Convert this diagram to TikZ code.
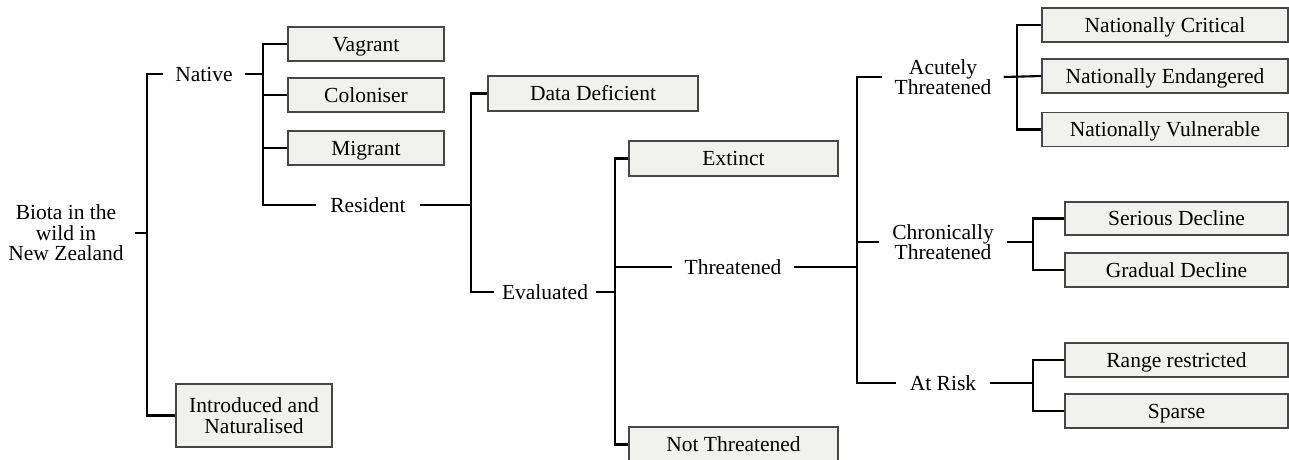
\documentclass[tikz,border=0pt]{standalone}
\usepackage{fontspec}
\setmainfont{Liberation Serif}
\begin{document}
\begin{tikzpicture}[x=1pt,y=-1pt,
  every node/.style={font=\fontsize{21.5pt}{20.5pt}\selectfont, text=black},
  box/.style={draw={rgb,255:red,70;green,70;blue,70}, line width=1.1pt, fill={rgb,255:red,241;green,241;blue,237}, inner sep=0pt, text height=14pt, text depth=0pt},
  lbl/.style={inner xsep=12pt, inner ysep=0pt, align=center},
  one/.style={text height=14pt, text depth=0pt},
  conn/.style={line width=2.1pt, black, line join=miter}]
\useasboundingbox (0,0) rectangle (1289,459);
% bus coordinates
\coordinate (b1) at (147,0);
\coordinate (b2) at (263,0);
\coordinate (b3) at (471,0);
\coordinate (b4) at (615,0);
\coordinate (b5) at (857,0);
\coordinate (b6) at (1017,0);
\coordinate (b7) at (1033,0);
% labels
\node[lbl, inner xsep=11pt] (root) at (66,233) {Biota in the\\wild in\\New Zealand};
\node[lbl, one] (native) at (204,74) {Native};
\node[lbl, one, inner xsep=14pt] (res) at (368,205) {Resident};
\node[lbl, one, inner xsep=8pt] (eval) at (545,292) {Evaluated};
\node[lbl, one] (thr) at (733,267) {Threatened};
\node[lbl] (acu) at (943,77) {Acutely\\Threatened};
\node[lbl, inner xsep=13pt] (chr) at (943,242) {Chronically\\Threatened};
\node[lbl, one, inner xsep=14pt] (risk) at (943,383) {At Risk};
% boxes
\node[box, minimum width=156pt, minimum height=34pt] (vag) at (366,44) {Vagrant};
\node[box, minimum width=156pt, minimum height=34pt] (col) at (366,95) {Coloniser};
\node[box, minimum width=156pt, minimum height=34pt] (mig) at (366,148) {Migrant};
\node[box, text height=, text depth=, align=center, minimum width=156pt, minimum height=63pt] (intro) at (254,415.5) {Introduced and\\Naturalised};
\node[box, minimum width=210pt, minimum height=35pt] (dd) at (593,93.5) {Data Deficient};
\node[box, minimum width=209pt, minimum height=35pt] (ext) at (733.5,158.5) {Extinct};
\node[box, minimum width=209pt, minimum height=35pt] (nt) at (733.5,444.5) {Not Threatened};
\node[box, minimum width=246pt, minimum height=34pt] (nc) at (1165,25) {Nationally Critical};
\node[box, minimum width=246pt, minimum height=34pt] (ne) at (1165,76) {Nationally Endangered};
\node[box, minimum width=246pt, minimum height=34pt] (nv) at (1165,129.5) {Nationally Vulnerable};
\node[box, minimum width=223pt, minimum height=33pt] (sd) at (1176.5,218.5) {Serious Decline};
\node[box, minimum width=223pt, minimum height=34pt] (gd) at (1176.5,270) {Gradual Decline};
\node[box, minimum width=223pt, minimum height=34pt] (rr) at (1176.5,360) {Range restricted};
\node[box, minimum width=223pt, minimum height=34pt] (sp) at (1176.5,411) {Sparse};
% connectors
\draw[conn] (root.east) -- (root.east -| b1);
\draw[conn] (native.west) -- (native.west -| b1) -- (intro.west -| b1) -- (intro.west);
\draw[conn] (native.east) -- (native.east -| b2);
\draw[conn] (vag.west) -- (vag.west -| b2) -- (res.west -| b2) -- (res.west);
\draw[conn] (col.west) -- (col.west -| b2);
\draw[conn] (mig.west) -- (mig.west -| b2);
\draw[conn] (res.east) -- (res.east -| b3);
\draw[conn] (dd.west) -- (dd.west -| b3) -- (eval.west -| b3) -- (eval.west);
\draw[conn] (eval.east) -- (eval.east -| b4);
\draw[conn] (ext.west) -- (ext.west -| b4) -- (nt.west -| b4) -- (nt.west);
\draw[conn] (thr.west) -- (thr.west -| b4);
\draw[conn] (thr.east) -- (thr.east -| b5);
\draw[conn] (acu.west) -- (acu.west -| b5) -- (risk.west -| b5) -- (risk.west);
\draw[conn] (chr.west) -- (chr.west -| b5);
\draw[conn] (acu.east) -- (ne.west);
\draw[conn] (nc.west) -- (nc.west -| b6) -- (nv.west -| b6) -- (nv.west);
\draw[conn] (chr.east) -- (chr.east -| b7);
\draw[conn] (sd.west) -- (sd.west -| b7) -- (gd.west -| b7) -- (gd.west);
\draw[conn] (risk.east) -- (risk.east -| b7);
\draw[conn] (rr.west) -- (rr.west -| b7) -- (sp.west -| b7) -- (sp.west);
\end{tikzpicture}
\end{document}
